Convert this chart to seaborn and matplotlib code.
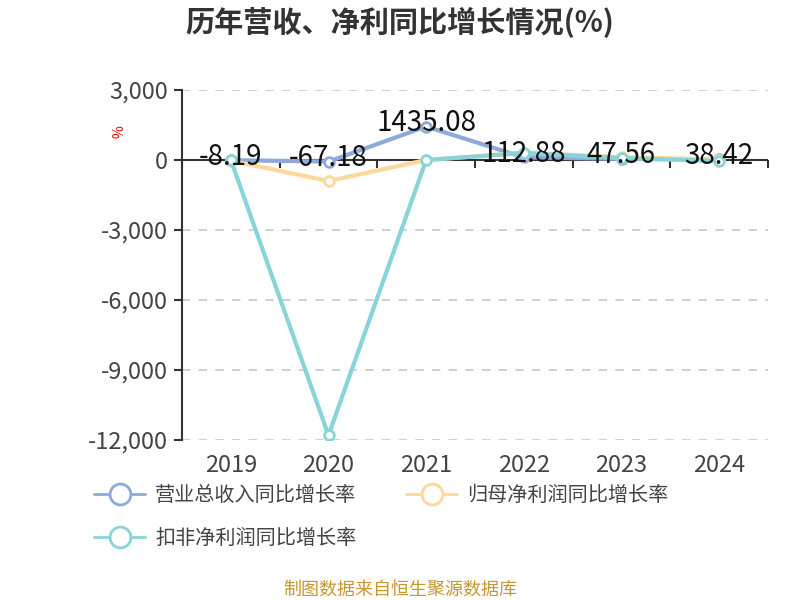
import pandas as pd
import matplotlib
matplotlib.use('Agg')
import matplotlib.pyplot as plt
import seaborn as sns
from matplotlib.ticker import FuncFormatter, FixedLocator

years = ['2019', '2020', '2021', '2022', '2023', '2024']
revenue_growth = [-8.19, -67.18, 1435.08, 112.88, 47.56, 38.42]
profit_growth = [-30, -900, 0, 320, 120, 20]
deducted_growth = [0, -11800, 0, 300, 80, -40]
series_names = ['营业总收入同比增长率', '归母净利润同比增长率', '扣非净利润同比增长率']
colors = ['#8eaadb', '#fdd89b', '#87d5d9']

sns.set_theme(style='white')
plt.rcParams['font.family'] = ['Noto Sans CJK SC', 'DejaVu Sans']
plt.rcParams['axes.unicode_minus'] = False

data = pd.DataFrame({
    'x': list(range(len(years))) * 3,
    'value': revenue_growth + profit_growth + deducted_growth,
    'series': sum([[n] * len(years) for n in series_names], []),
})

fig = plt.figure(figsize=(8, 6), dpi=100)
ax = fig.add_axes([0.2275, 0.2667, 0.7325, 0.5833])

for name, color in zip(series_names, colors):
    sub = data[data['series'] == name]
    sns.lineplot(x='x', y='value', data=sub, ax=ax, color=color, linewidth=3,
                 marker='o', markersize=7, markerfacecolor='white',
                 markeredgecolor=color, markeredgewidth=2, label=name, legend=False)

# data labels for revenue growth
for i, v in enumerate(revenue_growth):
    ax.annotate(f'{v:.2f}', (i, v), xytext=(0, 2.5), textcoords='offset points',
                ha='center', va='center', fontsize=20, color='#111111', zorder=5)

ax.set_xlim(-0.5, len(years) - 0.5)
ax.set_ylim(-12000, 3000)
ax.set_yticks(range(-12000, 3001, 3000))
ax.yaxis.set_major_formatter(FuncFormatter(lambda v, p: f'{int(v):,}'))
ax.grid(axis='y', linestyle=(0, (5, 5)), color='#c8c8c8', linewidth=1.2)
ax.set_axisbelow(True)

for s in ['top', 'right', 'bottom']:
    ax.spines[s].set_visible(False)
ax.spines['left'].set_color('#333333')
ax.spines['left'].set_linewidth(1.5)

ax.set_xticks(range(len(years)))
ax.set_xticklabels(years)
ax.tick_params(axis='x', length=0, labelsize=17, labelcolor='#444444', pad=10)
ax.tick_params(axis='y', length=6, width=1.5, color='#333333', labelsize=17,
               labelcolor='#444444', left=True, direction='out', pad=4)
ax.set_xlabel('')
ax.set_ylabel('')

# zero axis line with category boundary ticks
ax.axhline(0, color='#333333', linewidth=1.5, zorder=1.5)
zero_frac = (0 - (-12000)) / 15000
sec = ax.secondary_xaxis(zero_frac)
for s in sec.spines.values():
    s.set_visible(False)
sec.xaxis.set_major_locator(FixedLocator([i - 0.5 for i in range(len(years) + 1)]))
sec.xaxis.set_ticks_position('bottom')
sec.tick_params(axis='x', length=6, width=1.5, color='#333333', direction='out',
                labelbottom=False, labeltop=False, top=False, bottom=True)

fig.text(0.15, 0.78, '%', color='red', fontsize=10, rotation=90, ha='center', va='center')

fig.text(0.5, 0.963, '历年营收、净利同比增长情况(%)', ha='center', va='center',
         fontsize=21, fontweight='bold', color='#333333')

handles, labels = ax.get_legend_handles_labels()
order = [0, 2, 1]
leg = fig.legend([handles[i] for i in order], [labels[i] for i in order],
                 loc='upper left', bbox_to_anchor=(0.108, 0.205),
                 ncol=2, frameon=False, fontsize=14.5, handlelength=2.5,
                 columnspacing=2.5, handletextpad=0.5, labelspacing=1.1,
                 borderaxespad=0)
for t in leg.get_texts():
    t.set_color('#444444')
for h in leg.legend_handles:
    h.set_markersize(15)
    h.set_linewidth(2)

fig.text(0.5, 0.018, '制图数据来自恒生聚源数据库', ha='center', va='center',
         fontsize=13, color='#c8962a')

fig.savefig('out.png', dpi=100)
